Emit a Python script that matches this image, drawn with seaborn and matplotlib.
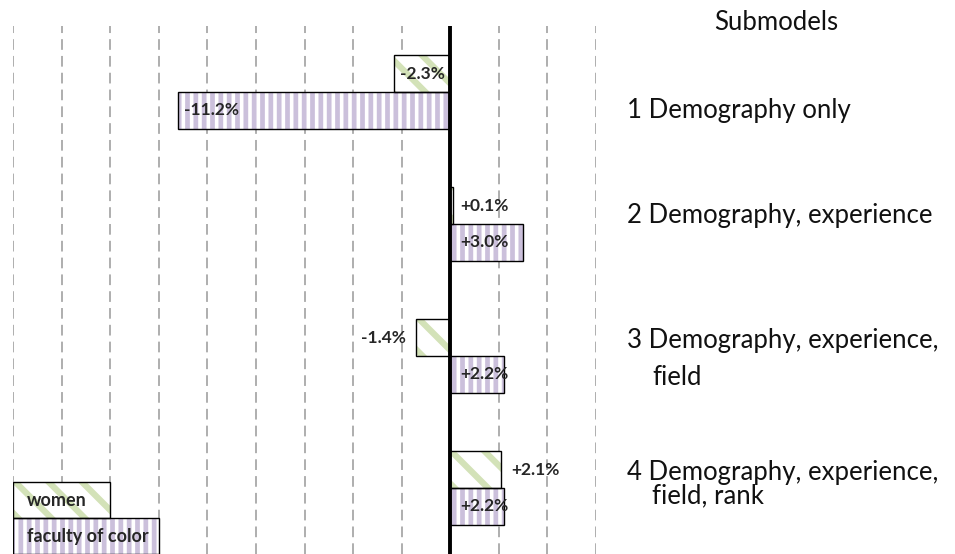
import pandas as pd
import seaborn as sns
import matplotlib.pyplot as plt
from matplotlib.patches import Rectangle

# data
submodels = ['1 Demography only',
             '2 Demography, experience',
             '3 Demography, experience,\nfield',
             '4 Demography, experience,\nfield, rank']
women = [-2.3, 0.1, -1.4, 2.1]
faculty_of_color = [-11.2, 3.0, 2.2, 2.2]
groups = ['women', 'faculty of color']
legend_len = [4, 6]  # legend keys, in % units

# label placement per bar: 'end_in', 'base_in', 'end_out'
women_lab = ['end_in', 'base_in', 'end_out', 'end_out']
foc_lab = ['end_in', 'base_in', 'base_in', 'base_in']

stripe = {'women': '#d3e2b8', 'faculty of color': '#cbc0db'}
hatches = {'women': '\\', 'faculty of color': '||'}
hatch_lw = {'women': 4.5, 'faculty of color': 3.4}

df = pd.DataFrame({
    'row': list(range(4)) * 2,
    'value': women + faculty_of_color,
    'group': ['women'] * 4 + ['faculty of color'] * 4,
})

sns.set_style('white')
plt.rcParams['font.family'] = ['Lato', 'DejaVu Sans']

fig = plt.figure(figsize=(9.55, 5.54), dpi=100)
ax = fig.add_axes([13 / 955, 0, 583 / 955, 528 / 554])

sns.barplot(data=df, x='value', y='row', hue='group', hue_order=groups,
            orient='h', dodge=True, width=0.56, palette=['white', 'white'],
            legend=False, ax=ax, err_kws={'linewidth': 0})


def style_bar(p, g):
    p.set_facecolor('white')
    p.set_edgecolor(stripe[g])
    p.set_linewidth(0)
    p.set_hatch(hatches[g])
    if hasattr(p, 'set_hatch_linewidth'):
        p.set_hatch_linewidth(hatch_lw[g])
    x, y = p.get_xy()
    ax.add_patch(Rectangle((x, y), p.get_width(), p.get_height(), fill=False,
                           edgecolor='black', linewidth=1.0, zorder=p.get_zorder() + 0.1))


for cont, g in zip(ax.containers, groups):
    for p in cont.patches:
        style_bar(p, g)

# value labels
pad = 7.5  # points
for cont, vals, modes in zip(ax.containers, [women, faculty_of_color], [women_lab, foc_lab]):
    for p, v, m in zip(cont.patches, vals, modes):
        yc = p.get_y() + p.get_height() / 2
        txt = f'{v:+.1f}%'
        if m == 'end_in':
            x = v
            dx, ha = (4, 'left') if v < 0 else (-4, 'right')
        elif m == 'base_in':
            x = 0
            dx, ha = (pad, 'left') if v >= 0 else (-pad, 'right')
        else:
            x = v
            dx, ha = (pad, 'left') if v > 0 else (-pad, 'right')
        ax.annotate(txt, (x, yc), xytext=(dx, 0), textcoords='offset points',
                    ha=ha, va='center', fontsize=12.5, fontweight='bold', zorder=5)

ax.set_xlim(-18, 6)
ax.set_ylim(3.5, -0.5)

# legend keys drawn as bars at the bottom-left
key_h = 0.272
key_top = 3.5 - 2 * key_h
for i, (g, L) in enumerate(zip(groups, legend_len)):
    y0 = key_top + i * key_h
    r = ax.barh(y0 + key_h / 2, L, left=-18, height=key_h, color='white',
                edgecolor=stripe[g], linewidth=0, hatch=hatches[g], zorder=3)[0]
    if hasattr(r, 'set_hatch_linewidth'):
        r.set_hatch_linewidth(hatch_lw[g])
    ax.add_patch(Rectangle((-18, y0), L, key_h, fill=False, edgecolor='black',
                           linewidth=1.0, zorder=3.1))
    ax.text(-18 + 0.58, y0 + key_h / 2, g, ha='left', va='center',
            fontsize=13, fontweight='bold', zorder=5)

# grid and zero line
ax.set_xticks(range(-18, 7, 2))
ax.set_xticklabels([])
ax.set_yticks([])
ax.set_xlabel('')
ax.set_ylabel('')
ax.tick_params(length=0)
ax.grid(axis='x', color='#999999', linewidth=1.1, linestyle=(0, (7, 4)), zorder=0)
ax.set_axisbelow(True)
ax.axvline(0, color='black', linewidth=2.8, zorder=4)
sns.despine(ax=ax, left=True, bottom=True)
ax.patch.set_alpha(0)

# submodel labels on the right (baseline of each line, in row units)
label_base = [0.197, 0.992, 1.939, 2.939]
line_step = [0.174, 0.174, 0.28, 0.174]
for s, yb, st in zip(submodels, label_base, line_step):
    for k, line in enumerate(s.split('\n')):
        ax.annotate(line, (1.0, yb + k * st), xycoords=ax.get_yaxis_transform(),
                    xytext=(22.5 + (18 if k else 0), 0), textcoords='offset points',
                    ha='left', va='baseline', fontsize=18.5, color='#111111',
                    annotation_clip=False)
fig.text(776 / 955, 1 - 30 / 554, 'Submodels', ha='center', va='baseline',
         fontsize=18.5, color='#111111')

fig.savefig('out.png', dpi=100)
